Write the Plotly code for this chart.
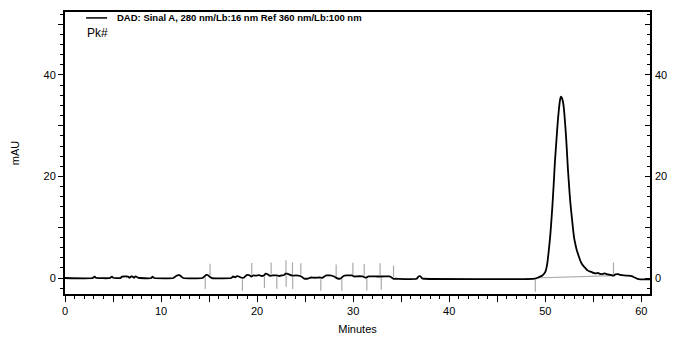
import plotly.graph_objects as go

# --- data ---
time_min = [0, 2.9, 3.0, 3.1, 3.2, 4.7, 4.8, 4.9, 5.0, 5.8, 5.9, 6.1, 6.4, 6.6, 6.7, 6.9,
            7.0, 7.2, 7.3, 7.5, 7.6, 7.8, 9.0, 9.1, 9.3, 11.3, 11.5, 11.7, 11.9, 12.1, 12.3,
            14.3, 14.5, 14.7, 14.9, 15.1, 15.3, 17.3, 17.5, 17.7, 17.9, 18.1, 18.3, 18.6,
            18.8, 19.0, 19.2, 19.4, 19.6, 19.9, 20.2, 20.5, 20.7, 20.9, 21.1, 21.3, 21.6,
            22.0, 22.3, 22.6, 22.8, 23.0, 23.2, 23.4, 23.7, 24.0, 24.3, 24.6, 24.9, 25.3,
            25.6, 26.0, 26.5, 26.8, 27.2, 27.6, 28.0, 28.4, 28.7, 29.0, 29.3, 29.9, 30.1,
            30.6, 31.0, 31.3, 31.6, 32.5, 33.0, 33.8, 34.2, 34.4, 36.6, 36.8, 37.0, 37.2,
            37.4, 48.96, 49.3, 49.7, 50.0, 50.2, 50.35, 50.5, 50.6, 50.75, 50.87, 51.0,
            51.15, 51.3, 51.4, 51.5, 51.6, 51.68, 51.78, 51.9, 52.0, 52.15, 52.25, 52.35,
            52.5, 52.6, 52.75, 52.88, 53.0, 53.15, 53.3, 53.5, 53.65, 53.8, 54.0, 54.2,
            54.4, 54.6, 54.8, 55.0, 55.3, 55.5, 55.7, 56.0, 56.2, 56.5, 56.8, 57.1, 57.3,
            57.6, 57.8, 58.2, 58.6, 59.0, 59.3, 59.6, 59.9, 60.9]
signal_mau = [0, 0, 0.2, 0.25, 0.05, 0, 0.2, 0.25, 0.05, 0, 0.25, 0.3, 0.3, 0.25, 0.05, 0.3,
              0.3, 0.05, 0.3, 0.2, 0.05, 0, 0, 0.25, 0, 0, 0.3, 0.5, 0.55, 0.3, 0,
              0, 0.3, 0.6, 0.55, 0.2, 0, 0, 0.3, 0.15, 0.35, 0.3, 0.1, 0.05,
              0.4, 0.6, 0.55, 0.3, 0.5, 0.45, 0.55, 0.4, 0.5, 0.85, 0.75, 0.45, 0.5,
              0.5, 0.4, 0.5, 0.6, 0.9, 0.8, 0.65, 0.45, 0.5, 0.45, 0.3, -0.1, -0.1,
              0.1, 0.05, 0.1, 0.05, 0.5, 0.5, 0.3, -0.1, -0.1, 0.4, 0.5, 0.5, 0.3,
              0.35, 0.3, 0.05, 0.3, 0.3, 0.3, 0.3, -0.15, -0.15, -0.15, 0.3, 0.35, -0.1,
              -0.15, -0.1, 0.15, 0.5, 1.2, 2.8, 5.2, 8.0, 10.4, 14.5, 18.3, 22.8,
              26.9, 30.8, 32.9, 34.6, 35.6, 35.7, 35.2, 34.0, 32.0, 28.2, 25.0, 21.6,
              17.5, 15.0, 12.2, 9.8, 7.9, 6.5, 5.3, 4.2, 3.4, 2.8, 2.3, 1.9,
              1.5, 1.3, 1.2, 1.0, 0.9, 1.0, 0.8, 0.8, 0.9, 0.7, 0.6, 0.45, 0.7,
              0.75, 0.6, 0.5, 0.45, 0.35, 0.1, -0.15, -0.25, -0.25]

# peak start (drawn below baseline) and peak end (drawn above baseline) markers, minutes
peak_start = [14.6, 18.47, 20.76, 22.05, 23.02, 23.7, 26.63, 28.82, 31.42, 32.92, 48.96]
peak_end = [15.1, 19.44, 21.46, 23.0, 23.68, 24.55, 28.23, 29.97, 31.15, 32.8, 34.2, 57.1]

# integration baseline of the main peak
main_base_t = [48.96, 57.1]
main_base_v = [0.0, 0.45]

legend_text = "DAD: Sinal A, 280 nm/Lb:16 nm Ref 360 nm/Lb:100 nm"
x_range = [0, 60.9]
y_range = [-3.15, 52.4]
x_ticks = [0, 5, 10, 15, 20, 25, 30, 35, 40, 45, 50, 55, 60]
y_ticks = [0, 10, 20, 30, 40, 50]

FONT = "Liberation Sans, Arial, sans-serif"


def interp(t):
    for i in range(len(time_min) - 1):
        if time_min[i] <= t <= time_min[i + 1]:
            a, b = time_min[i], time_min[i + 1]
            f = (t - a) / (b - a) if b > a else 0
            return signal_mau[i] + f * (signal_mau[i + 1] - signal_mau[i])
    return 0.0


mx, my = [], []
for t in peak_start:
    b = interp(t)
    mx += [t, t, None]
    my += [b - 0.3, b - 2.6, None]
for t in peak_end:
    b = interp(t)
    mx += [t, t, None]
    my += [b + 0.3, b + 2.6, None]

fig = go.Figure()
fig.add_trace(go.Scatter(x=main_base_t, y=main_base_v, mode="lines",
                         line=dict(color="#aaaaaa", width=1.2), hoverinfo="skip"))
fig.add_trace(go.Scatter(x=mx, y=my, mode="lines",
                         line=dict(color="#aaaaaa", width=1.2), hoverinfo="skip"))
fig.add_trace(go.Scatter(x=time_min, y=signal_mau, mode="lines",
                         line=dict(color="black", width=1.8, shape="spline", smoothing=0.5),
                         name=legend_text))
fig.add_trace(go.Scatter(x=[0], y=[0], yaxis="y2", mode="lines",
                         line=dict(color="rgba(0,0,0,0)"), hoverinfo="skip"))

# the page body adds an 8px margin, so the figure is sized/offset to compensate
fig.update_layout(
    width=677, height=346, autosize=False,
    margin=dict(l=57, r=35, t=4, b=60),
    paper_bgcolor="white", plot_bgcolor="white",
    showlegend=False,
    font=dict(family=FONT, color="black", size=11),
    xaxis=dict(range=x_range, showgrid=False, zeroline=False, automargin=False,
               showline=True, linecolor="black", linewidth=2, mirror=True,
               tickvals=x_ticks,
               ticktext=[str(v) if v % 10 == 0 else "" for v in x_ticks],
               ticks="outside", ticklen=6, tickcolor="black", tickwidth=1,
               ticklabelstandoff=0,
               minor=dict(dtick=1, ticks="outside", ticklen=3, tickcolor="black"),
               tickfont=dict(size=11),
               title=dict(text="Minutes", font=dict(size=11), standoff=9)),
    yaxis=dict(range=y_range, showgrid=False, zeroline=False, automargin=False,
               showline=True, linecolor="black", linewidth=2, mirror=True,
               tickvals=y_ticks,
               ticktext=[str(v) if v % 20 == 0 else "" for v in y_ticks],
               ticks="outside", ticklen=5, tickcolor="black", tickwidth=1,
               minor=dict(dtick=2, ticks="outside", ticklen=3, tickcolor="black"),
               tickfont=dict(size=11),
               title=dict(text="mAU", font=dict(size=11), standoff=22)),
    yaxis2=dict(range=y_range, overlaying="y", side="right", showgrid=False,
                zeroline=False, showline=False, automargin=False,
                tickvals=y_ticks,
                ticktext=[str(v) if v % 20 == 0 else "" for v in y_ticks],
                ticks="inside", ticklen=5, tickcolor="black", tickwidth=1,
                ticklabelstandoff=4,
                minor=dict(dtick=2, ticks="inside", ticklen=3, tickcolor="black"),
                tickfont=dict(size=11)),
)

# legend entry drawn inside the plot
fig.add_shape(type="line", xref="paper", yref="paper",
              x0=0.036, x1=0.072, y0=0.979, y1=0.979,
              line=dict(color="black", width=1.5))
fig.add_annotation(xref="paper", yref="paper", x=0.085, y=0.979,
                   xanchor="left", yanchor="middle", showarrow=False,
                   text="<b>" + legend_text + "</b>", font=dict(size=9.5, family=FONT))
fig.add_annotation(xref="paper", yref="paper", x=0.034, y=0.925,
                   xanchor="left", yanchor="middle", showarrow=False,
                   text="Pk#", font=dict(size=12, family=FONT))

fig.write_html("out.html")
